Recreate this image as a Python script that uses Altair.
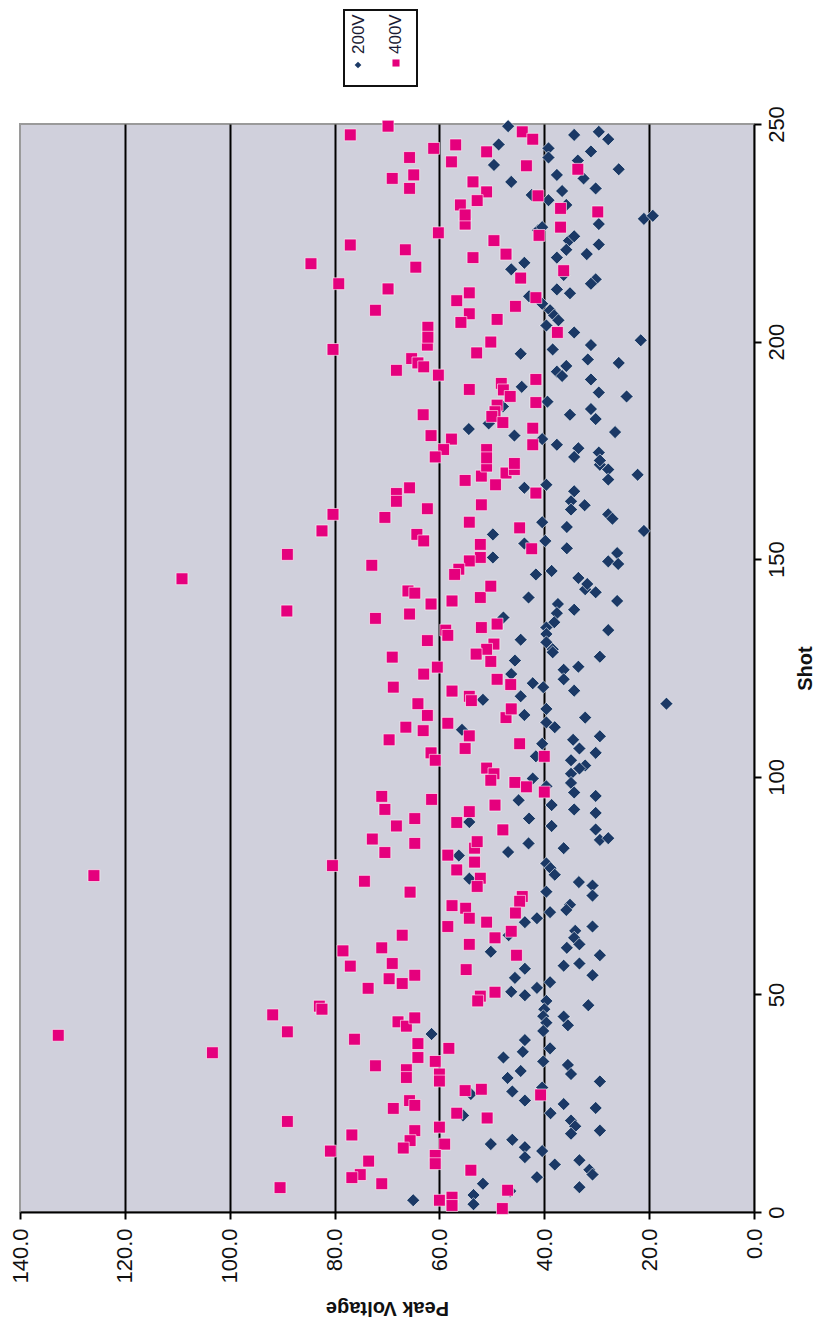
import altair as alt
import pandas as pd

# ---------------- data ----------------
SERIES = ["200V", "400V"]

# 400V series: (shot, peak voltage)
shot_400 = [
    20.8, 5.6, 14.0, 17.7, 11.7, 8.6, 7.9, 6.5, 23.8, 25.6, 24.5, 18.7, 16.4, 14.7, 19.5, 15.6, 13.0, 11.1, 2.7, 3.4,
    1.5, 22.7, 27.9, 28.2, 21.6, 9.6, 5.0, 0.8, 26.9,
    40.6, 36.6, 45.3, 41.4, 47.3, 46.6, 56.5, 57.1, 51.4, 53.6, 52.5, 54.4, 39.7, 33.6, 43.7, 42.7, 44.6, 38.7, 35.5,
    32.7, 30.9, 34.6, 31.7, 30.1, 37.6, 55.7, 49.6, 48.5, 50.5,
    77.3, 79.6, 85.7, 84.7, 82.6, 76.0, 73.5, 82.0, 83.6, 85.1, 80.4, 78.6, 76.7, 74.8, 70.4, 69.8, 67.5, 65.6, 66.6,
    72.5, 71.4, 68.7, 63.0, 64.5, 61.5, 63.6, 60.0, 60.7, 59.0,
    114.1, 112.3, 111.4, 110.6, 108.5, 113.6, 109.4, 106.5, 105.5, 103.8, 107.6, 104.7, 102.0, 100.7, 99.2, 98.7, 97.7,
    96.5, 95.5, 92.5, 94.8, 93.5, 92.0, 90.4, 88.7, 89.5, 87.8,
    138.1, 136.4, 137.4, 139.7, 140.4, 141.2, 142.7, 142.2, 133.7, 132.5, 131.3, 134.3, 135.1, 127.5, 130.5, 129.3,
    128.2, 126.5, 125.2, 123.6, 120.6, 122.4, 121.2, 119.7, 118.5, 117.5, 116.8, 115.6,
    145.5, 151.1, 156.5, 160.3, 148.6, 159.6, 165.1, 163.3, 166.4, 161.6, 155.7, 154.2, 168.1, 169.1, 171.4, 169.8,
    170.6, 167.1, 165.2, 162.5, 158.5, 157.2, 153.4, 150.4, 149.6, 147.7, 146.5, 152.4, 143.8,
    198.2, 199.2, 197.4, 199.9, 196.1, 195.1, 194.2, 193.4, 192.3, 189.0, 190.4, 188.9, 187.4, 191.3, 186.0, 185.4,
    183.9, 182.8, 181.4, 183.2, 178.4, 177.6, 175.2, 173.5, 175.2, 173.3, 180.1, 176.3, 172.0,
    227.0, 225.0, 222.2, 221.1, 217.9, 217.1, 213.3, 212.1, 207.2, 223.2, 220.1, 219.3, 224.4, 226.3, 214.6, 216.3,
    210.1, 211.2, 209.4, 208.1, 206.4, 204.4, 205.1, 203.3, 201.0, 202.1,
    249.5, 247.5, 244.4, 245.2, 242.3, 241.3, 238.3, 237.5, 235.2, 243.6, 248.2, 246.5, 240.4, 236.7, 234.4, 232.4,
    231.4, 229.1, 233.5, 239.6, 230.6, 229.8,
]
volt_400 = [
    89.0, 90.4, 80.8, 76.7, 73.5, 75.1, 76.7, 71.0, 68.8, 65.7, 64.7, 64.7, 65.6, 66.9, 60.0, 59.0, 60.8, 60.8, 60.0, 57.6,
    57.6, 56.7, 55.1, 52.0, 50.9, 54.0, 47.0, 48.0, 40.7,
    132.7, 103.3, 91.8, 89.0, 82.9, 82.4, 77.0, 69.0, 73.6, 69.6, 67.1, 64.7, 76.2, 72.2, 67.9, 66.3, 64.7, 64.1, 64.1,
    66.3, 66.3, 60.8, 60.0, 60.0, 58.2, 54.9, 52.2, 52.7, 49.4,
    125.9, 80.4, 72.8, 64.7, 70.4, 74.3, 65.6, 58.4, 53.3, 52.8, 53.3, 56.7, 52.2, 52.8, 57.6, 55.0, 54.3, 58.4, 51.0,
    44.2, 44.7, 45.5, 49.4, 46.3, 54.3, 67.1, 78.4, 71.0, 45.3,
    62.3, 58.4, 66.4, 63.1, 69.6, 47.3, 54.3, 55.1, 61.6, 60.8, 44.7, 40.0, 51.0, 49.6, 50.2, 45.6, 43.4,
    40.0, 71.0, 70.4, 61.5, 49.4, 54.3, 64.7, 68.2, 56.7, 47.9,
    89.1, 72.2, 65.7, 61.6, 57.6, 52.2, 66.0, 64.7, 58.8, 58.4, 62.3, 52.0, 49.0, 69.0, 49.6, 51.0,
    53.0, 50.2, 60.4, 63.0, 68.8, 49.0, 46.4, 57.6, 54.3, 53.9, 64.1, 46.3,
    109.1, 89.0, 82.4, 80.3, 72.9, 70.4, 68.2, 68.2, 65.7, 62.3, 64.3, 63.0, 55.1, 52.0, 51.0, 47.3,
    45.7, 49.3, 41.6, 52.0, 54.3, 44.7, 52.2, 52.2, 54.3, 56.3, 57.1, 42.4, 50.2,
    80.3, 62.3, 52.9, 50.2, 65.3, 64.1, 63.0, 68.2, 60.2, 54.3, 48.2, 47.8, 46.5, 41.6, 41.6, 49.0,
    49.4, 50.0, 47.9, 63.1, 61.6, 57.7, 59.2, 60.8, 51.0, 51.0, 42.2, 42.2, 45.7,
    55.1, 60.2, 77.0, 66.5, 84.5, 64.5, 79.2, 69.8, 72.2, 49.6, 47.3, 53.6, 41.0, 36.9, 44.5, 36.3,
    41.6, 54.3, 56.7, 45.5, 54.3, 55.9, 49.0, 62.2, 62.2, 37.5,
    69.8, 77.0, 61.1, 56.9, 65.7, 57.7, 64.9, 69.0, 65.7, 51.0, 44.2, 42.2, 43.4, 53.6, 51.0, 52.8,
    56.0, 55.1, 41.2, 33.6, 36.9, 29.8,
]

# 200V series: (shot, peak voltage)
shot_200 = [
    2.7, 22.2, 27.1, 27.7, 25.6, 15.6, 16.6, 14.9, 12.6, 14.0, 6.5, 3.9, 1.8, 4.8, 8.0, 10.9, 22.7, 24.8, 23.9, 21.0,
    19.7, 18.0, 18.7, 11.9, 9.7, 8.6, 5.7, 28.6,
    40.9, 55.9, 53.8, 50.6, 49.8, 51.5, 52.8, 56.6, 57.1, 54.4, 48.5, 46.6, 45.0, 43.5, 41.6, 47.5, 44.9, 42.9, 39.5,
    36.8, 35.5, 37.6, 34.6, 33.8, 31.7, 32.4, 30.8, 30.0,
    84.7, 82.7, 83.6, 85.5, 85.9, 81.9, 80.1, 79.0, 77.5, 76.6, 73.6, 75.8, 75.0, 72.7, 70.6, 69.4, 68.9, 67.5, 66.6,
    65.6, 64.6, 63.0, 61.5, 60.7, 63.6, 59.8, 59.0,
    114.2, 112.5, 111.4, 113.6, 110.8, 109.3, 108.5, 107.6, 106.5, 105.5, 104.7, 103.8, 102.6, 101.9, 100.7, 98.6,
    99.6, 97.8, 96.4, 95.6, 94.6, 93.5, 92.5, 91.7, 90.4, 89.6, 88.7, 87.9,
    141.2, 143.1, 142.4, 140.4, 139.7, 137.6, 138.4, 136.6, 135.5, 134.3, 132.8, 133.7, 131.5, 130.9, 129.3, 128.6,
    127.6, 126.7, 125.3, 124.6, 122.4, 123.6, 121.5, 120.6, 119.8, 118.5, 117.7, 116.8, 115.6,
    166.4, 167.1, 165.6, 171.7, 170.6, 168.3, 169.4, 163.3, 161.4, 162.4, 160.3, 159.3, 158.5, 157.4, 156.5, 155.7,
    153.6, 154.2, 152.5, 150.4, 151.4, 149.5, 148.9, 146.5, 147.3, 145.7, 144.3,
    197.2, 198.2, 199.2, 200.3, 195.9, 195.1, 194.4, 193.1, 192.1, 191.3, 189.6, 188.3, 187.4, 186.2, 185.1, 184.5,
    182.2, 183.2, 181.2, 179.2, 179.9, 178.4, 177.6, 176.3, 175.5, 174.5, 173.5, 172.7,
    225.6, 226.3, 223.2, 224.2, 221.1, 222.3, 220.1, 219.3, 218.1, 216.6, 215.3, 214.3, 213.3, 212.0, 211.1, 210.4,
    208.7, 207.2, 206.0, 204.9, 203.7, 202.1, 228.2, 228.9, 227.0,
    249.5, 245.3, 240.6, 236.7, 247.5, 248.2, 246.5, 244.4, 242.3, 243.7, 241.6, 239.6, 238.3, 237.5, 235.2, 234.6,
    233.7, 232.5, 231.4,
]
volt_200 = [
    65.0, 55.5, 54.0, 46.1, 43.7, 50.2, 46.1, 43.7, 43.7, 40.4, 51.7, 53.5, 53.5, 46.5, 41.4, 38.0, 38.8, 36.3, 30.2, 34.9,
    34.1, 34.9, 29.4, 33.3, 31.4, 30.8, 33.3, 40.4,
    61.5, 43.7, 45.6, 46.3, 43.7, 41.4, 38.9, 36.3, 33.3, 30.8, 39.6, 40.0, 40.2, 39.6, 40.2, 31.6, 36.3, 35.5, 43.7,
    44.1, 47.8, 38.9, 40.2, 35.5, 34.9, 44.5, 47.0, 29.4,
    43.0, 46.9, 36.3, 29.4, 27.8, 56.3, 39.6, 38.8, 38.0, 54.3, 39.6, 33.4, 30.8, 30.8, 35.1, 35.8, 38.9, 41.4, 43.7,
    30.8, 34.1, 34.3, 33.3, 35.7, 46.8, 50.2, 29.4,
    43.8, 39.6, 38.0, 32.2, 55.7, 29.4, 34.5, 40.4, 33.3, 30.2, 41.6, 34.9, 32.2, 33.3, 34.9, 34.9,
    42.2, 39.6, 34.3, 30.2, 44.9, 38.6, 34.3, 30.2, 42.9, 54.3, 38.6, 30.2,
    43.0, 32.2, 30.2, 26.1, 37.4, 37.6, 34.3, 47.8, 38.1, 39.6, 39.6, 27.8, 44.5, 39.6, 38.4, 38.4,
    29.4, 45.6, 33.5, 36.3, 36.3, 46.3, 42.2, 40.2, 34.3, 44.5, 51.7, 16.7, 39.6,
    43.8, 39.6, 34.3, 29.4, 27.8, 27.8, 22.2, 34.9, 34.9, 32.3, 27.8, 27.0, 40.4, 35.7, 21.0, 49.8,
    43.8, 39.8, 35.7, 49.8, 26.1, 27.8, 25.9, 41.6, 38.6, 33.5, 31.8,
    44.5, 38.4, 31.1, 21.6, 31.7, 25.8, 35.8, 37.6, 36.6, 31.1, 44.3, 29.6, 24.3, 39.4, 47.9, 31.1,
    30.2, 35.1, 50.6, 26.5, 54.4, 45.7, 40.4, 37.6, 33.5, 29.6, 34.3, 29.4,
    41.2, 40.4, 35.3, 34.3, 35.8, 29.6, 31.9, 37.6, 43.8, 46.3, 36.3, 30.2, 31.1, 37.6, 35.1, 42.9,
    40.4, 38.9, 38.1, 37.3, 39.6, 34.3, 21.0, 19.3, 29.6,
    46.9, 48.7, 49.6, 46.3, 34.3, 29.6, 27.8, 39.2, 39.2, 31.1, 33.6, 25.8, 37.6, 32.5, 30.2, 36.6,
    42.4, 39.2, 35.8,
]

VOLT_TICKS = [0, 20, 40, 60, 80, 100, 120, 140]
SHOT_TICKS = [0, 50, 100, 150, 200, 250]

# ---------------- styling ----------------
PINK = "#e5007d"
NAVY = "#1b3966"
BG = "#d0d0dc"
FONT = "Liberation Sans"

df200 = pd.DataFrame({"shot": shot_200, "voltage": volt_200, "series": SERIES[0]})
df400 = pd.DataFrame({"shot": shot_400, "voltage": volt_400, "series": SERIES[1]})

x_enc = alt.X(
    "voltage:Q",
    scale=alt.Scale(domain=[0, 140], reverse=True, nice=False, zero=False),
    axis=alt.Axis(
        values=VOLT_TICKS,
        format=".1f",
        title="Peak Voltage",
        titleAngle=180,
        titleBaseline="bottom",
        titleFont=FONT,
        titleFontSize=20,
        titleFontWeight="bold",
        titleColor="#111111",
        titlePadding=14,
        labelAngle=270,
        labelAlign="right",
        labelBaseline="middle",
        labelFont=FONT,
        labelFontSize=22,
        labelColor="#111111",
        labelPadding=9,
        labelFlush=False,
        labelOverlap=False,
        grid=True,
        gridColor={"condition": {"test": "datum.value === 0 || datum.value === 140",
                                 "value": "rgba(0,0,0,0)"},
                   "value": "#000000"},
        gridWidth=2,
        domainColor="#000000",
        domainWidth=2,
        tickColor="#000000",
        tickWidth=2,
        tickSize=7,
    ),
)
y_enc = alt.Y(
    "shot:Q",
    scale=alt.Scale(domain=[0, 250], nice=False, zero=True),
    axis=alt.Axis(
        orient="right",
        values=SHOT_TICKS,
        format="d",
        title="Shot",
        titleAngle=270,
        titleBaseline="top",
        titleFont=FONT,
        titleFontSize=20,
        titleFontWeight="bold",
        titleColor="#111111",
        titlePadding=8,
        labelAngle=270,
        labelAlign="center",
        labelBaseline="top",
        labelFont=FONT,
        labelFontSize=22,
        labelColor="#111111",
        labelPadding=5,
        labelFlush=False,
        labelOverlap=False,
        grid=False,
        domainColor="#000000",
        domainWidth=2,
        tickColor="#000000",
        tickWidth=2,
        tickSize=7,
    ),
)

pts200 = alt.Chart(df200).mark_point(
    shape="diamond", filled=True, size=170, color=NAVY, opacity=1,
    stroke="white", strokeWidth=1, strokeOpacity=0.6,
).encode(x=x_enc, y=y_enc)

pts400 = alt.Chart(df400).mark_point(
    shape="square", filled=True, size=140, color=PINK, opacity=1,
    stroke="white", strokeWidth=1, strokeOpacity=0.6,
).encode(x=x_enc, y=y_enc)

# ---------------- rotated legend above the plot ----------------
leg_box = alt.Chart(pd.DataFrame({"s": [SERIES[0]]})).mark_rect(
    fill="white", stroke="#111111", strokeWidth=2, clip=False
).encode(x=alt.value(324), x2=alt.value(397), y=alt.value(-114), y2=alt.value(-38))

leg_text_200 = alt.Chart(pd.DataFrame({"s": [SERIES[0]]})).mark_text(
    angle=270, align="left", baseline="middle", font=FONT, fontSize=17,
    color="#1a1a33", clip=False
).encode(text="s:N", x=alt.value(339), y=alt.value(-70))

leg_text_400 = alt.Chart(pd.DataFrame({"s": [SERIES[1]]})).mark_text(
    angle=270, align="left", baseline="middle", font=FONT, fontSize=17,
    color="#1a1a33", clip=False
).encode(text="s:N", x=alt.value(376), y=alt.value(-70))

leg_mark_200 = alt.Chart(pd.DataFrame({"s": [SERIES[0]]})).mark_point(
    shape="diamond", filled=True, size=45, color=NAVY, opacity=1, clip=False
).encode(x=alt.value(338), y=alt.value(-59))

leg_mark_400 = alt.Chart(pd.DataFrame({"s": [SERIES[1]]})).mark_point(
    shape="square", filled=True, size=50, color=PINK, opacity=1, clip=False
).encode(x=alt.value(376), y=alt.value(-61))

chart = alt.layer(
    pts200, pts400, leg_box, leg_text_200, leg_text_400, leg_mark_200, leg_mark_400
).properties(
    width=734,
    height=1088,
    padding={"left": 12, "top": 116, "right": 63, "bottom": 119},
    autosize=alt.AutoSizeParams(type="none"),
    background="white",
).configure_view(
    fill=BG, stroke="#9a9a9a", strokeWidth=2
)

chart.save("out.html", embed_options={"renderer": "svg", "actions": False})
